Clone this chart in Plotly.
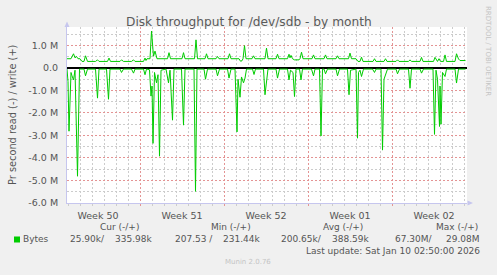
import pandas as pd
import plotly.graph_objects as go

# ---------------- data ----------------
window_start = "2025-12-07 22:00"
window_end = "2026-01-10 06:00"

# write (+) throughput, MB/s, at hours after window_start
write_hours = [0, 8, 13, 16, 19, 22, 26, 30, 34, 37, 41, 57, 61, 64, 81, 84, 87, 106, 109, 113,
               129, 133, 136, 153, 156, 158, 160, 166, 169, 173, 176, 180, 201, 204, 207, 230,
               233, 236, 255, 258, 261, 276, 279, 282, 298, 301, 304, 322, 325, 328, 344, 347,
               350, 352, 355, 358, 370, 373, 376, 396, 399, 402, 418, 421, 424, 441, 444, 446,
               448, 451, 455, 464, 466, 469, 472, 490, 493, 496, 514, 517, 520, 538, 541, 544,
               563, 566, 569, 578, 582, 586, 589, 592, 612, 615, 618, 634, 637, 640, 658, 661,
               664, 683, 686, 689, 706, 709, 712, 733, 736, 741, 744, 747, 753, 756, 759, 776,
               779, 783, 786, 797]
write_mbps = [0.41, 0.41, 0.63, 0.45, 0.51, 0.41, 0.41, 0.29, 0.29, 0.54, 0.29, 0.29, 0.36, 0.29,
              0.29, 0.44, 0.29, 0.29, 0.36, 0.29, 0.29, 0.36, 0.29, 0.29, 0.44, 0.33, 0.41, 0.41,
              1.64, 0.52, 0.75, 0.41, 0.41, 0.68, 0.41, 0.41, 0.68, 0.41, 0.41, 1.25, 0.41, 0.41,
              0.63, 0.41, 0.41, 0.51, 0.41, 0.41, 0.63, 0.41, 0.41, 0.30, 0.32, 0.41, 0.99, 0.41,
              0.41, 0.54, 0.41, 0.41, 0.88, 0.41, 0.41, 0.61, 0.41, 0.41, 0.61, 0.45, 0.56, 0.41,
              0.36, 0.36, 0.41, 0.70, 0.41, 0.41, 0.58, 0.41, 0.41, 0.58, 0.41, 0.41, 0.54, 0.41,
              0.41, 0.66, 0.41, 0.41, 0.29, 0.29, 0.48, 0.29, 0.29, 0.41, 0.29, 0.29, 0.41, 0.29,
              0.29, 0.36, 0.29, 0.29, 0.36, 0.29, 0.29, 0.47, 0.29, 0.29, 0.47, 0.29, 0.41, 0.29,
              0.29, 0.58, 0.29, 0.29, 0.63, 0.40, 0.33, 0.33]

# read (-) throughput, MB/s (drawn below zero)
read_hours = [0, 2, 4, 8, 10, 13, 16, 21, 25, 34, 37, 41, 57, 61, 64, 79, 83, 86, 106, 109, 113,
              129, 133, 136, 153, 156, 159, 165, 168, 170, 172, 175, 179, 182, 185, 188, 198, 203,
              206, 211, 214, 229, 233, 236, 254, 257, 260, 274, 277, 281, 298, 301, 305, 321, 324,
              328, 336, 340, 342, 346, 349, 353, 356, 359, 371, 374, 377, 393, 396, 399, 402, 418,
              421, 425, 441, 444, 447, 452, 455, 458, 465, 468, 471, 489, 493, 496, 505, 508, 511,
              514, 517, 521, 538, 541, 545, 561, 564, 567, 578, 581, 583, 586, 589, 593, 611, 615,
              618, 628, 631, 634, 637, 641, 658, 661, 665, 683, 686, 689, 706, 709, 713, 732, 735,
              738, 741, 745, 746, 748, 751, 756, 759, 776, 779, 783, 797]
read_mbps = [0.05, 0.6, 2.81, 0.2, 0.35, 0.53, 0.1, 4.81, 0.05, 0.05, 0.35, 0.05, 0.05, 1.34, 0.05,
             0.05, 1.39, 0.05, 0.05, 0.2, 0.05, 0.05, 0.23, 0.05, 0.05, 0.3, 0.05, 0.08, 1.25, 0.8,
             3.35, 0.2, 0.66, 0.3, 3.92, 0.1, 0.05, 0.66, 0.1, 2.32, 0.05, 0.05, 2.54, 0.05, 0.05,
             5.48, 0.05, 0.05, 0.5, 0.05, 0.05, 0.35, 0.05, 0.05, 0.45, 0.05, 0.05, 2.84, 0.5, 1.3,
             0.4, 0.66, 0.45, 0.05, 0.05, 0.29, 0.05, 0.05, 1.19, 0.6, 0.05, 0.05, 0.45, 0.05, 0.05,
             0.53, 0.1, 0.2, 1.27, 0.05, 0.05, 0.53, 0.05, 0.05, 0.35, 0.05, 0.05, 3.02, 0.05, 0.05,
             0.26, 0.05, 0.05, 0.35, 0.05, 0.05, 1.19, 0.1, 0.05, 3.12, 0.2, 0.1, 0.38, 0.05, 0.05,
             0.2, 0.05, 0.05, 3.65, 0.5, 0.3, 0.05, 0.05, 0.26, 0.05, 0.05, 0.9, 0.05, 0.05, 0.23,
             0.05, 0.05, 2.95, 0.1, 0.5, 2.6, 0.8, 2.5, 0.2, 0.38, 0.05, 0.05, 0.67, 0.05, 0.05]

week_starts = ["2025-12-14", "2025-12-21", "2025-12-28", "2026-01-04"]
week_label_pos = ["2025-12-10 12:00", "2025-12-17 12:00", "2025-12-24 12:00",
                  "2025-12-31 12:00", "2026-01-07 12:00"]
week_labels = ["Week 50", "Week 51", "Week 52", "Week 01", "Week 02"]

y_tick_vals = [1, 0, -1, -2, -3, -4, -5, -6]
y_tick_text = ["1.0 M", "0.0", "-1.0 M", "-2.0 M", "-3.0 M", "-4.0 M", "-5.0 M", "-6.0 M"]

legend_headers = ["Cur (-/+)", "Min (-/+)", "Avg (-/+)", "Max (-/+)"]
stats_read = ["25.90k/", "207.53 /", "200.65k/", "67.30M/"]
stats_write = ["335.98k", "231.44k", "388.59k", "29.08M"]
series_name = "Bytes"
title_text = "Disk throughput for /dev/sdb - by month"
y_title = "Pr second read (-) / write (+)"
last_update = "Last update: Sat Jan 10 02:50:00 2026"
credit = "Munin 2.0.76"
side_text = "RRDTOOL / TOBI OETIKER"

# ---------------- figure ----------------
W, H = 497, 275
L, R, T, B = 67, 30, 27, 72
PW, PH = W - L - R, H - T - B


def px(x):
    return (x - L) / PW


def py(y):
    return (T + PH - y) / PH


t0 = pd.Timestamp(window_start)
wx = t0 + pd.to_timedelta(write_hours, unit="h")
rx = t0 + pd.to_timedelta(read_hours, unit="h")

GREEN = "#00CC00"
TXT = "#555555"
FONT = "DejaVu Sans"
RED_GRID = "#e49494"
GRAY_GRID = "#cccccc"
AXIS = "#c6c6ee"
DASH = "2px,2px"

fig = go.Figure()
fig.add_trace(go.Scatter(x=wx, y=write_mbps, mode="lines", xaxis="x", yaxis="y",
                         line=dict(color=GREEN, width=1), hoverinfo="skip"))
fig.add_trace(go.Scatter(x=rx, y=[-v for v in read_mbps], mode="lines", xaxis="x2", yaxis="y",
                         line=dict(color=GREEN, width=1), hoverinfo="skip"))

fig.update_layout(
    width=W, height=H,
    margin=dict(l=L, r=R, t=T, b=B, pad=0),
    paper_bgcolor="#F0F0F0", plot_bgcolor="#FFFFFF",
    showlegend=False,
    font=dict(family=FONT, size=9, color=TXT),
    xaxis=dict(
        type="date", range=[window_start, window_end],
        tickmode="array", tickvals=week_label_pos, ticktext=week_labels,
        showgrid=False, zeroline=False, ticks="",
        showline=True, linecolor=AXIS, linewidth=1,
        tickfont=dict(family=FONT, size=9.5, color=TXT),
        ticklabelstandoff=4,
        minor=dict(dtick=86400000, tick0="2025-12-07", showgrid=True,
                   gridcolor=GRAY_GRID, griddash=DASH, gridwidth=1,
                   ticks="outside", ticklen=2, tickcolor=GRAY_GRID),
        fixedrange=True,
    ),
    xaxis2=dict(
        type="date", range=[window_start, window_end], overlaying="x", matches="x",
        anchor="y", side="bottom",
        tickmode="array", tickvals=week_starts, showticklabels=False,
        showgrid=True, gridcolor=RED_GRID, griddash=DASH, gridwidth=1,
        ticks="outside", ticklen=2, tickcolor=RED_GRID,
        showline=False, zeroline=False, fixedrange=True,
    ),
    yaxis=dict(
        range=[-6.0, 1.82],
        tickmode="array", tickvals=y_tick_vals, ticktext=y_tick_text,
        showgrid=True, gridcolor=RED_GRID, griddash=DASH, gridwidth=1,
        zeroline=True, zerolinecolor="#000000", zerolinewidth=2,
        showline=True, linecolor=AXIS, linewidth=1,
        ticks="", ticklabelstandoff=6,
        tickfont=dict(family=FONT, size=9.5, color=TXT),
        minor=dict(dtick=0.5, tick0=0, showgrid=True, gridcolor=GRAY_GRID,
                   griddash=DASH, gridwidth=1),
        fixedrange=True,
    ),
)

shapes = []
# axis arrows
shapes.append(dict(type="path", xref="paper", yref="paper",
                   path=f"M {px(64.5)} {py(27)} L {px(69.5)} {py(27)} L {px(67)} {py(21.5)} Z",
                   fillcolor=AXIS, line=dict(width=0), layer="above"))
shapes.append(dict(type="path", xref="paper", yref="paper",
                   path=f"M {px(467.5)} {py(200.5)} L {px(467.5)} {py(205.5)} L {px(473)} {py(203)} Z",
                   fillcolor=AXIS, line=dict(width=0), layer="above"))
# legend colour box
shapes.append(dict(type="rect", xref="paper", yref="paper",
                   x0=px(14), x1=px(20), y0=py(242.5), y1=py(236.5),
                   fillcolor=GREEN, line=dict(width=0)))
fig.update_layout(shapes=shapes)

ann = []


def add_text(text, x, y, xanchor="left", size=9, color=TXT, angle=0):
    ann.append(dict(text=text, x=px(x), y=py(y), xref="paper", yref="paper",
                    xanchor=xanchor, yanchor="middle", showarrow=False,
                    textangle=angle, font=dict(family=FONT, size=size, color=color)))


add_text(title_text, 248.5, 21.5, "center", size=12.2, color="#5a5a5a")
add_text(y_title, 12, 115, "center", size=9.8, angle=-90)
add_text(side_text, 488, 51, "center", size=7, color="#c4c4c4", angle=90)

header_right = [141, 253, 365, 480]
read_right = [107, 215, 324, 435]
write_right = [154, 262, 371, 482]
for h, xr in zip(legend_headers, header_right):
    add_text(h, xr, 227, "right")
add_text(series_name, 20.5, 239, "left")
for s, xr in zip(stats_read, read_right):
    add_text(s, xr, 239, "right")
for s, xr in zip(stats_write, write_right):
    add_text(s, xr, 239, "right")
add_text(last_update, 482, 251, "right")
add_text(credit, 248, 262, "center", size=7, color="#c4c4c4")

fig.update_layout(annotations=ann)

fig.write_html("out.html", config={"displayModeBar": False})
